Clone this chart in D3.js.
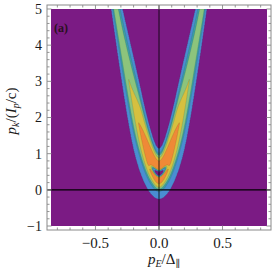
<!DOCTYPE html>
<html>
<head>
<meta charset="utf-8">
<script src="https://cdn.jsdelivr.net/npm/d3@7"></script>
<style>
  body { margin: 0; background: #fff; }
  svg { display: block; }
  text { font-family: "Liberation Serif", "DejaVu Serif", serif; fill: #1a1a1a; }
</style>
</head>
<body>
<div id="chart"></div>
<script>
// tick values
let xTicks = [-0.5, 0, 0.5];
let xMinor = [-0.8, -0.7, -0.6, -0.4, -0.3, -0.2, -0.1, 0.1, 0.2, 0.3, 0.4, 0.6, 0.7, 0.8];
let yTicks = [-1, 0, 1, 2, 3, 4, 5];
let yMinor = [-0.8, -0.6, -0.4, -0.2, 0.2, 0.4, 0.6, 0.8, 1.2, 1.4, 1.6, 1.8, 2.2, 2.4, 2.6, 2.8,
              3.2, 3.4, 3.6, 3.8, 4.2, 4.4, 4.6, 4.8];

// contour levels, lowest first, and the colour of the band above each level
let levels = [0.1, 0.3, 0.45, 0.6, 0.75];
let bandColors = ["#4a8ed2", "#3c9ea3", "#8cc47c", "#d6c03f", "#ef8937"];
let lowColor = "#7b1b84";

// the band (right half, the left arm is its mirror)
let ridgePE = [0, 0.05, 0.1, 0.15, 0.2, 0.25, 0.3, 0.35, 0.4, 0.45];
let outerPk = [-0.3, -0.19, 0.04, 0.46, 1.03, 1.98, 3.1, 4.3, 5.55, 6.8];   // lower (outer) edge
let innerPk = [1.0, 1.46, 2.1, 2.92, 3.7, 4.46, 5.23, 6.0, 6.77, 7.5];      // upper (inner) edge
let ridgePeak = [1.0, 0.97, 0.9, 0.78, 0.67, 0.58, 0.56, 0.555, 0.55, 0.55];

// profile across the band: fraction from outer to inner edge -> relative height
let crossT = [0, 0.15, 0.2, 0.235, 0.3, 0.5, 0.758, 0.814, 0.862, 0.903, 1];
let crossQ = [0, 0.222, 0.389, 0.556, 0.722, 1, 0.722, 0.556, 0.389, 0.222, 0];

// the dark crescent near p_E = 0
let dipT = 0.505, dipWidthT = 0.068, dipWidthPE = 0.06, dipBend = 0.07;

let xDomain = [-0.85, 0.85], yDomain = [-1, 5];

let margin = {left: 51, right: 7, top: 9, bottom: 51},
    W = 274, H = 277,
    width = W - margin.left - margin.right,
    height = H - margin.top - margin.bottom;

let xScale = d3.scaleLinear().domain(xDomain).range([margin.left, margin.left + width]);
let yScale = d3.scaleLinear().domain(yDomain).range([margin.top + height, margin.top]);

let svg = d3.select("#chart").append("svg")
    .attr("width", W)
    .attr("height", H);

// mirrored control points so the bottom of the U stays round
let mirror = function (arr) {
    return arr.slice(1).reverse().concat(arr);
};
let edgeSpan = ridgePE[ridgePE.length - 1];
let outerFn = d3.interpolateBasis(mirror(outerPk));
let innerFn = d3.interpolateBasis(mirror(innerPk));
let peakFn = d3.interpolateBasis(mirror(ridgePeak));
let crossFn = d3.scaleLinear().domain(crossT).range(crossQ).clamp(true);

function field(pE, pk) {
    let u = Math.max(0, Math.min(1, (pE + edgeSpan) / (2 * edgeSpan)));
    let o = outerFn(u), inn = innerFn(u);
    let t = (pk - o) / (inn - o);
    if (t <= 0 || t >= 1) return 0;
    let a = peakFn(u);
    let v = levels[0] + (a - levels[0]) * crossFn(t);
    let q = pE / dipWidthPE;
    let dt = (t - (dipT - dipBend * q * q)) / dipWidthT;
    let r2 = dt * dt + q * q;
    return v * (1 - Math.exp(-r2 * r2));
}

// sample the field on a grid covering the plot area
let nx = 2 * Math.round(width), ny = 2 * Math.round(height);
let dx = (xDomain[1] - xDomain[0]) / nx, dy = (yDomain[1] - yDomain[0]) / ny;
let values = new Float64Array(nx * ny);
for (let j = 0; j < ny; j++) {
    let pk = yDomain[1] - (j + 0.5) * dy;
    for (let i = 0; i < nx; i++) {
        values[j * nx + i] = field(xDomain[0] + (i + 0.5) * dx, pk);
    }
}

let contours = d3.contours().size([nx, ny]).thresholds(levels)(values);

let proj = d3.geoTransform({
    point: function (x, y) {
        this.stream.point(xScale(xDomain[0] + x * dx), yScale(yDomain[1] - y * dy));
    }
});
let path = d3.geoPath(proj);

svg.append("clipPath").attr("id", "plotClip")
    .append("rect")
    .attr("x", margin.left).attr("y", margin.top)
    .attr("width", width).attr("height", height);

let plot = svg.append("g").attr("clip-path", "url(#plotClip)");

plot.append("rect")
    .attr("x", margin.left).attr("y", margin.top)
    .attr("width", width).attr("height", height)
    .attr("fill", lowColor);

plot.selectAll("path.band")
    .data(contours)
    .enter().append("path")
    .attr("class", "band")
    .attr("d", path)
    .attr("fill", function (d, i) { return bandColors[i]; })
    .attr("stroke", "rgba(40,40,40,0.3)")
    .attr("stroke-width", 0.4);

// frame sits a little outside the plot area
let pad = 4;
let fx0 = margin.left - pad, fx1 = margin.left + width + pad,
    fy0 = margin.top - pad, fy1 = margin.top + height + pad;

// axes through the origin
svg.append("line")
    .attr("x1", fx0).attr("x2", fx1)
    .attr("y1", yScale(0)).attr("y2", yScale(0))
    .attr("stroke", "#000").attr("stroke-width", 1.2);
svg.append("line")
    .attr("x1", xScale(0)).attr("x2", xScale(0))
    .attr("y1", fy0).attr("y2", fy1)
    .attr("stroke", "#000").attr("stroke-width", 0.8);

let frameColor = "#8a8a8a";
svg.append("rect")
    .attr("x", fx0).attr("y", fy0)
    .attr("width", fx1 - fx0).attr("height", fy1 - fy0)
    .attr("fill", "none").attr("stroke", frameColor).attr("stroke-width", 1);

let ticks = svg.append("g").attr("stroke", frameColor).attr("stroke-width", 0.9);
function xTick(v, len) {
    let x = xScale(v);
    ticks.append("line").attr("x1", x).attr("x2", x).attr("y1", fy1).attr("y2", fy1 - len);
    ticks.append("line").attr("x1", x).attr("x2", x).attr("y1", fy0).attr("y2", fy0 + len);
}
function yTick(v, len) {
    let y = yScale(v);
    ticks.append("line").attr("x1", fx0).attr("x2", fx0 + len).attr("y1", y).attr("y2", y);
    ticks.append("line").attr("x1", fx1).attr("x2", fx1 - len).attr("y1", y).attr("y2", y);
}
xTicks.forEach(function (v) { xTick(v, 4.5); });
xMinor.forEach(function (v) { xTick(v, 2.5); });
yTicks.forEach(function (v) { yTick(v, 4.5); });
yMinor.forEach(function (v) { yTick(v, 2.5); });

let minus = function (s) { return s.replace("-", "\u2212"); };

svg.append("g").selectAll("text")
    .data(xTicks)
    .enter().append("text")
    .attr("x", function (d) { return xScale(d); })
    .attr("y", 248)
    .attr("text-anchor", "middle")
    .style("font-size", "15px")
    .text(function (d) { return minus(d3.format(".1f")(d)); });

svg.append("g").selectAll("text")
    .data(yTicks)
    .enter().append("text")
    .attr("x", 42)
    .attr("y", function (d) { return yScale(d); })
    .attr("dy", "0.35em")
    .attr("text-anchor", "end")
    .style("font-size", "14px")
    .text(function (d) { return minus(String(d)); });

// x axis title  p_E / Δ_∥
let xt = svg.append("text")
    .attr("x", 164).attr("y", 264)
    .attr("text-anchor", "middle")
    .style("font-size", "15px");
xt.append("tspan").style("font-style", "italic").text("p");
xt.append("tspan").attr("dy", 3).style("font-size", "10px").style("font-style", "italic").text("E");
xt.append("tspan").attr("dy", -3).text("/\u0394");
xt.append("tspan").attr("dy", 3).style("font-size", "10px").text("\u2225");

// y axis title  p_k / (I_p / c)
let yt = svg.append("text")
    .attr("transform", "translate(16,111) rotate(-90)")
    .attr("text-anchor", "middle")
    .style("font-size", "15px");
yt.append("tspan").style("font-style", "italic").text("p");
yt.append("tspan").attr("dy", 3).style("font-size", "10px").style("font-style", "italic").text("k");
yt.append("tspan").attr("dy", -3).text("/(");
yt.append("tspan").style("font-style", "italic").text("I");
yt.append("tspan").attr("dy", 3).style("font-size", "10px").style("font-style", "italic").text("p");
yt.append("tspan").attr("dy", -3).text("/c)");

// panel tag
svg.append("text")
    .attr("x", 54).attr("y", 32)
    .style("font-size", "12px")
    .style("font-weight", "bold")
    .style("fill", "#2a1020")
    .text("(a)");
</script>
</body>
</html>
